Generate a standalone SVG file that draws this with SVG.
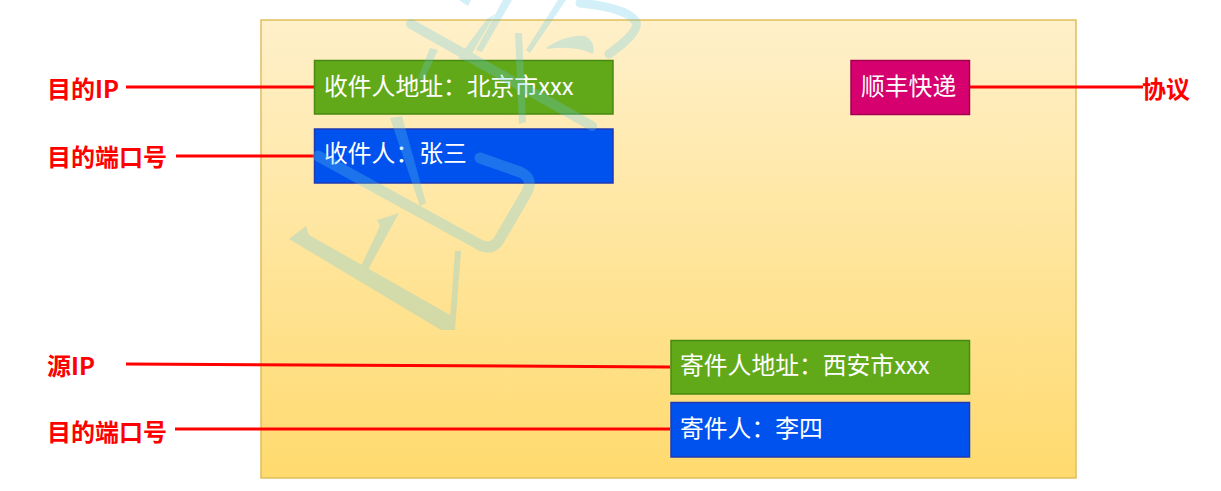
<svg xmlns="http://www.w3.org/2000/svg" width="1221" height="491" viewBox="0 0 1221 491">
  <defs>
    <linearGradient id="bgGrad" x1="0" y1="0" x2="0" y2="1">
      <stop offset="0" stop-color="#FFF0CA"/>
      <stop offset="1" stop-color="#FFDA6E"/>
    </linearGradient>
    <style>
      .box-text { font-family: "Noto Sans CJK SC", "Liberation Sans", sans-serif; font-size: 23.8px; fill: #FFFFFF; }
      .label { font-family: "Noto Sans CJK SC", "Liberation Sans", sans-serif; font-size: 24px; font-weight: bold; fill: #FF0000; }
      .green { fill: #62A91A; stroke: #468A10; stroke-width: 1.5; }
      .blue { fill: #0052EF; stroke: #1F3AB4; stroke-width: 1.5; }
      .pink { fill: #D6006F; stroke: #A3004F; stroke-width: 1.5; }
      .conn { stroke: #FF0000; stroke-width: 3; fill: none; }
      .wm { fill: #64C8E6; }
      .wms { fill: none; stroke: #64C8E6; stroke-linecap: round; stroke-linejoin: round; }
    </style>
  </defs>

  <rect x="0" y="0" width="1221" height="491" fill="#FFFFFF"/>

  <g id="envelope">
    <rect x="261" y="20" width="815" height="458" fill="url(#bgGrad)" stroke="#E0BE5A" stroke-width="1.5"/>
  </g>

  <g id="connectors">
    <line class="conn" x1="126" y1="87" x2="314" y2="87"/>
    <line class="conn" x1="176" y1="156" x2="314" y2="156"/>
    <line class="conn" x1="970" y1="87" x2="1143" y2="87"/>
    <line class="conn" x1="126" y1="364" x2="670" y2="367"/>
    <line class="conn" x1="175" y1="429" x2="670" y2="429"/>
  </g>

  <g id="node-dest-address">
    <rect class="green" x="314.5" y="60.5" width="298.5" height="53.5"/>
    <text class="box-text" x="324" y="95">收件人地址：北京市xxx</text>
  </g>
  <g id="node-dest-name">
    <rect class="blue" x="314.5" y="129" width="298.5" height="54"/>
    <text class="box-text" x="324" y="162">收件人：张三</text>
  </g>
  <g id="node-carrier">
    <rect class="pink" x="851" y="60.5" width="118.5" height="54"/>
    <text class="box-text" x="861" y="95">顺丰快递</text>
  </g>
  <g id="node-src-address">
    <rect class="green" x="671" y="340.5" width="298.5" height="53.5"/>
    <text class="box-text" x="680" y="374">寄件人地址：西安市xxx</text>
  </g>
  <g id="node-src-name">
    <rect class="blue" x="671" y="402.5" width="298.5" height="54.5"/>
    <text class="box-text" x="680" y="437">寄件人：李四</text>
  </g>

  <g id="label-dest-ip"><text class="label" x="47" y="98">目的IP</text></g>
  <g id="label-dest-port"><text class="label" x="47" y="166">目的端口号</text></g>
  <g id="label-protocol"><text class="label" x="1142" y="98">协议</text></g>
  <g id="label-src-ip"><text class="label" x="47" y="375">源IP</text></g>
  <g id="label-dest-port-2"><text class="label" x="47" y="441">目的端口号</text></g>

  <g id="watermark" opacity="0.28">
    <polygon class="wm" points="289,239 306,226 309,235 452,316 454,330 441,330"/>
    <polygon class="wm" points="455,251 461,251 455,330 442,330 450,318"/>
    <polygon class="wm" points="361,266 380,226 377,220 399,213 389,231 368,270"/>
    <path class="wms" stroke-width="11" d="M 318 156 L 480 245 Q 492 251 499 240 L 527 192 Q 534 178 520 172 L 480 158"/>
    <polygon class="wm" points="390,118 402,116 426,203 420,206"/>
    <line class="wms" stroke-width="10" x1="411" y1="24" x2="592" y2="126"/>
    <polygon class="wm" points="515,33 522,33 526,122 519,124"/>
    <polygon class="wm" points="458,58 487,19 495,14 467,62"/>
    <polygon class="wm" points="503,0 512,0 482,52 476,50"/>
    <polygon class="wm" points="430,48 438,50 424,80 418,78"/>
    <polygon class="wm" points="558,0 566,0 530,53 526,50"/>
    <polygon class="wm" points="459,0 471,0 468,6"/>
    <path class="wm" d="M 547 47 Q 568 34 585 36 Q 596 42 593 54 Q 575 45 547 49 Z"/>
    <path class="wms" stroke-width="9" d="M 580 3 Q 628 8 636 22 Q 640 32 609 54"/>
  </g>
</svg>
